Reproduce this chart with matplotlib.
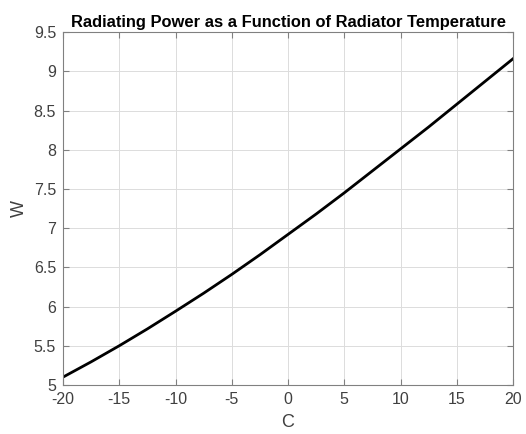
import numpy as np
import matplotlib.pyplot as plt

# Dados
temp_c = [-20, -17.5, -15, -12.5, -10, -7.5, -5, -2.5, 0, 2.5, 5, 7.5, 10, 12.5, 15, 17.5, 20]
power_w = [5.10, 5.295, 5.50, 5.715, 5.94, 6.17, 6.41, 6.66, 6.92, 7.18, 7.45, 7.73, 8.01, 8.29, 8.58, 8.87, 9.16]
x_ticks = [-20, -15, -10, -5, 0, 5, 10, 15, 20]
y_ticks = [5, 5.5, 6, 6.5, 7, 7.5, 8, 8.5, 9, 9.5]

plt.rcParams['font.family'] = ['Liberation Sans', 'DejaVu Sans']
plt.rcParams['axes.unicode_minus'] = False

fig = plt.figure(figsize=(5.26, 4.34), dpi=100)
ax = fig.add_axes([0.1198, 0.113, 0.8555, 0.813])

ax.plot(temp_c, power_w, color='black', linewidth=2)

ax.set_xlim(-20, 20)
ax.set_ylim(5, 9.5)
ax.set_xticks(x_ticks)
ax.set_xticklabels([str(t) for t in x_ticks])
ax.set_yticks(y_ticks)
ax.set_yticklabels([f'{t:g}' for t in y_ticks])

ax.grid(True, color='#dcdcdc', linewidth=0.7)
ax.set_axisbelow(True)
for s in ax.spines.values():
    s.set_color('#808080')
ax.tick_params(direction='in', length=4, colors='#808080', labelcolor='#404040', labelsize=11.5,
               top=True, right=True, pad=5)

ax.set_xlabel('C', fontsize=13, color='#404040', labelpad=5)
ax.set_ylabel('W', fontsize=13, color='#404040', labelpad=4)
ax.set_title('Radiating Power as a Function of Radiator Temperature', fontsize=11.9,
             fontweight='bold', pad=4)

fig.savefig('out.png', dpi=100)
